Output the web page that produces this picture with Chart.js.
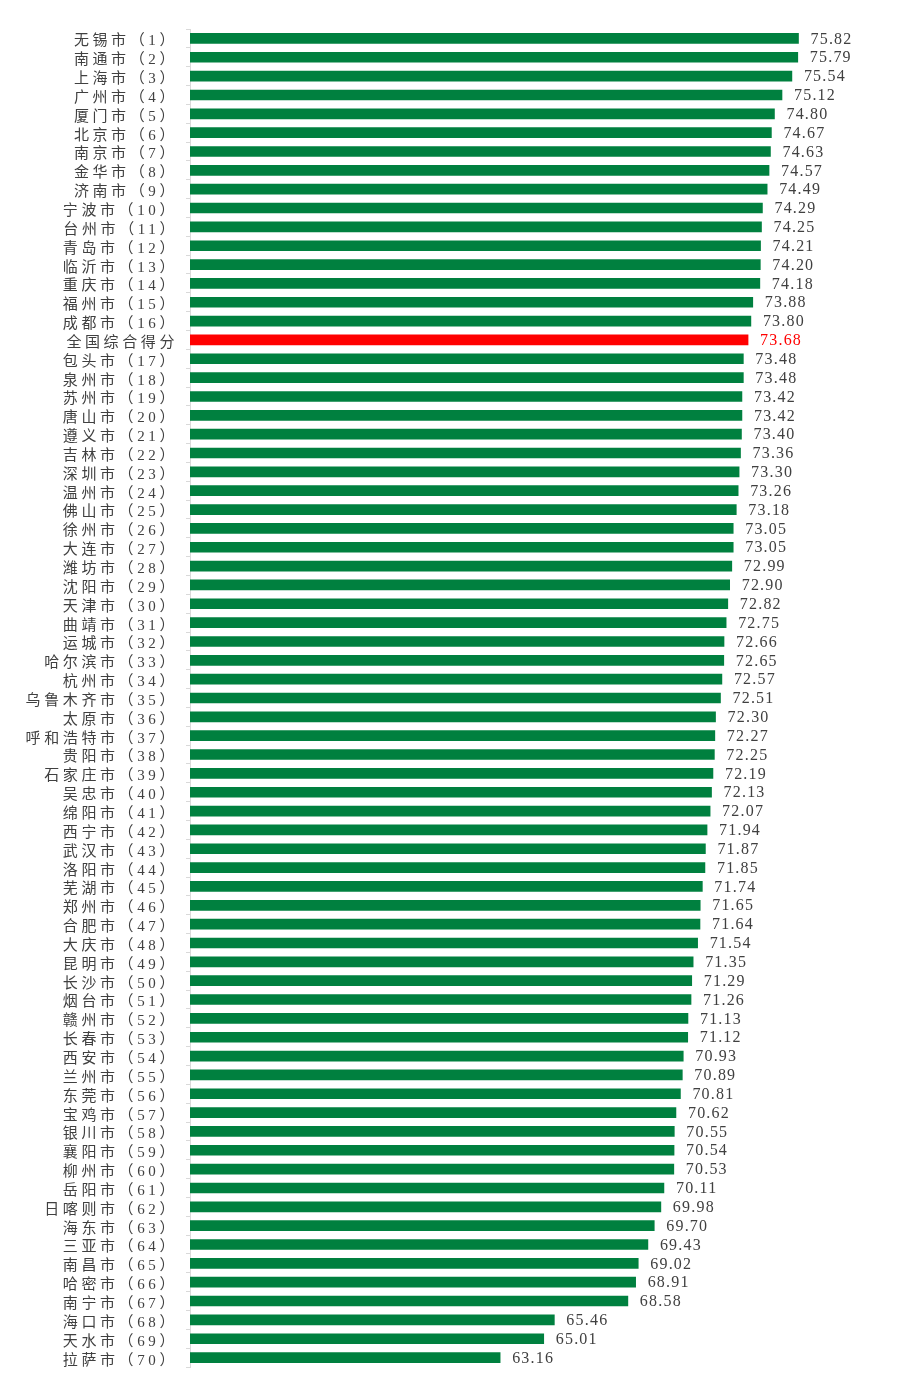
<!DOCTYPE html>
<html>
<head>
<meta charset="utf-8">
<script src="https://cdn.jsdelivr.net/npm/chart.js@4/dist/chart.umd.min.js"></script>
<style>
  html, body { margin: 0; padding: 0; background: #fff; }
  #wrap { width: 898px; height: 1395px; }
</style>
</head>
<body>
<div id="wrap"><canvas id="scoreChart"></canvas></div>
<script>
// categories, top to bottom
const cities = [
    '无锡市（1）', '南通市（2）', '上海市（3）', '广州市（4）', '厦门市（5）',
    '北京市（6）', '南京市（7）', '金华市（8）', '济南市（9）', '宁波市（10）',
    '台州市（11）', '青岛市（12）', '临沂市（13）', '重庆市（14）', '福州市（15）',
    '成都市（16）', '全国综合得分', '包头市（17）', '泉州市（18）', '苏州市（19）',
    '唐山市（20）', '遵义市（21）', '吉林市（22）', '深圳市（23）', '温州市（24）',
    '佛山市（25）', '徐州市（26）', '大连市（27）', '潍坊市（28）', '沈阳市（29）',
    '天津市（30）', '曲靖市（31）', '运城市（32）', '哈尔滨市（33）', '杭州市（34）',
    '乌鲁木齐市（35）', '太原市（36）', '呼和浩特市（37）', '贵阳市（38）', '石家庄市（39）',
    '吴忠市（40）', '绵阳市（41）', '西宁市（42）', '武汉市（43）', '洛阳市（44）',
    '芜湖市（45）', '郑州市（46）', '合肥市（47）', '大庆市（48）', '昆明市（49）',
    '长沙市（50）', '烟台市（51）', '赣州市（52）', '长春市（53）', '西安市（54）',
    '兰州市（55）', '东莞市（56）', '宝鸡市（57）', '银川市（58）', '襄阳市（59）',
    '柳州市（60）', '岳阳市（61）', '日喀则市（62）', '海东市（63）', '三亚市（64）',
    '南昌市（65）', '哈密市（66）', '南宁市（67）', '海口市（68）', '天水市（69）',
    '拉萨市（70）'
];

// composite scores
const scores = [
    75.82, 75.79, 75.54, 75.12, 74.80,
    74.67, 74.63, 74.57, 74.49, 74.29,
    74.25, 74.21, 74.20, 74.18, 73.88,
    73.80, 73.68, 73.48, 73.48, 73.42,
    73.42, 73.40, 73.36, 73.30, 73.26,
    73.18, 73.05, 73.05, 72.99, 72.90,
    72.82, 72.75, 72.66, 72.65, 72.57,
    72.51, 72.30, 72.27, 72.25, 72.19,
    72.13, 72.07, 71.94, 71.87, 71.85,
    71.74, 71.65, 71.64, 71.54, 71.35,
    71.29, 71.26, 71.13, 71.12, 70.93,
    70.89, 70.81, 70.62, 70.55, 70.54,
    70.53, 70.11, 69.98, 69.70, 69.43,
    69.02, 68.91, 68.58, 65.46, 65.01,
    63.16
];

const nationalLabel = '全国综合得分';
const axisRange = [50, 80];

const GREEN = '#00803f';
const RED = '#ff0000';
const TEXT = '#404040';

const barColors = cities.map(c => c === nationalLabel ? RED : GREEN);

// spaced-out labels like the original sheet
const letterSpacingPlugin = {
    id: 'letterSpacing',
    beforeDraw(chart) {
        chart.ctx.letterSpacing = '3.6px';
    },
    afterDraw(chart) {
        chart.ctx.letterSpacing = '0px';
    }
};

const valueLabels = {
    id: 'valueLabels',
    afterDatasetsDraw(chart) {
        const ctx = chart.ctx;
        const meta = chart.getDatasetMeta(0);
        ctx.save();
        ctx.letterSpacing = '1.2px';
        ctx.font = '16px "Liberation Serif", "DejaVu Serif", serif';
        ctx.textBaseline = 'middle';
        ctx.textAlign = 'left';
        meta.data.forEach((bar, i) => {
            ctx.fillStyle = cities[i] === nationalLabel ? RED : TEXT;
            ctx.fillText(scores[i].toFixed(2), bar.x + 12, bar.y + 1);
        });
        ctx.restore();
    }
};

new Chart(document.getElementById('scoreChart'), {
    type: 'bar',
    data: {
        labels: cities,
        datasets: [{
            data: scores,
            backgroundColor: barColors,
            borderWidth: 0,
            barThickness: 10
        }]
    },
    options: {
        indexAxis: 'y',
        responsive: true,
        maintainAspectRatio: false,
        animation: false,
        layout: { padding: { top: 29, bottom: 28, left: 0, right: 1 } },
        plugins: {
            legend: { display: false },
            tooltip: { enabled: false }
        },
        scales: {
            x: {
                display: false,
                min: axisRange[0],
                max: axisRange[1]
            },
            y: {
                afterFit(scale) { scale.width = 190; },
                border: { display: true, color: '#d9d9d9', width: 1 },
                grid: {
                    drawOnChartArea: false,
                    drawTicks: true,
                    tickLength: 4,
                    color: '#d9d9d9'
                },
                ticks: {
                    autoSkip: false,
                    padding: 8,
                    labelOffset: 3,
                    color: TEXT,
                    font: { family: '"Liberation Serif", "Noto Sans CJK SC", serif', size: 15 }
                }
            }
        }
    },
    plugins: [letterSpacingPlugin, valueLabels]
});
</script>
</body>
</html>
